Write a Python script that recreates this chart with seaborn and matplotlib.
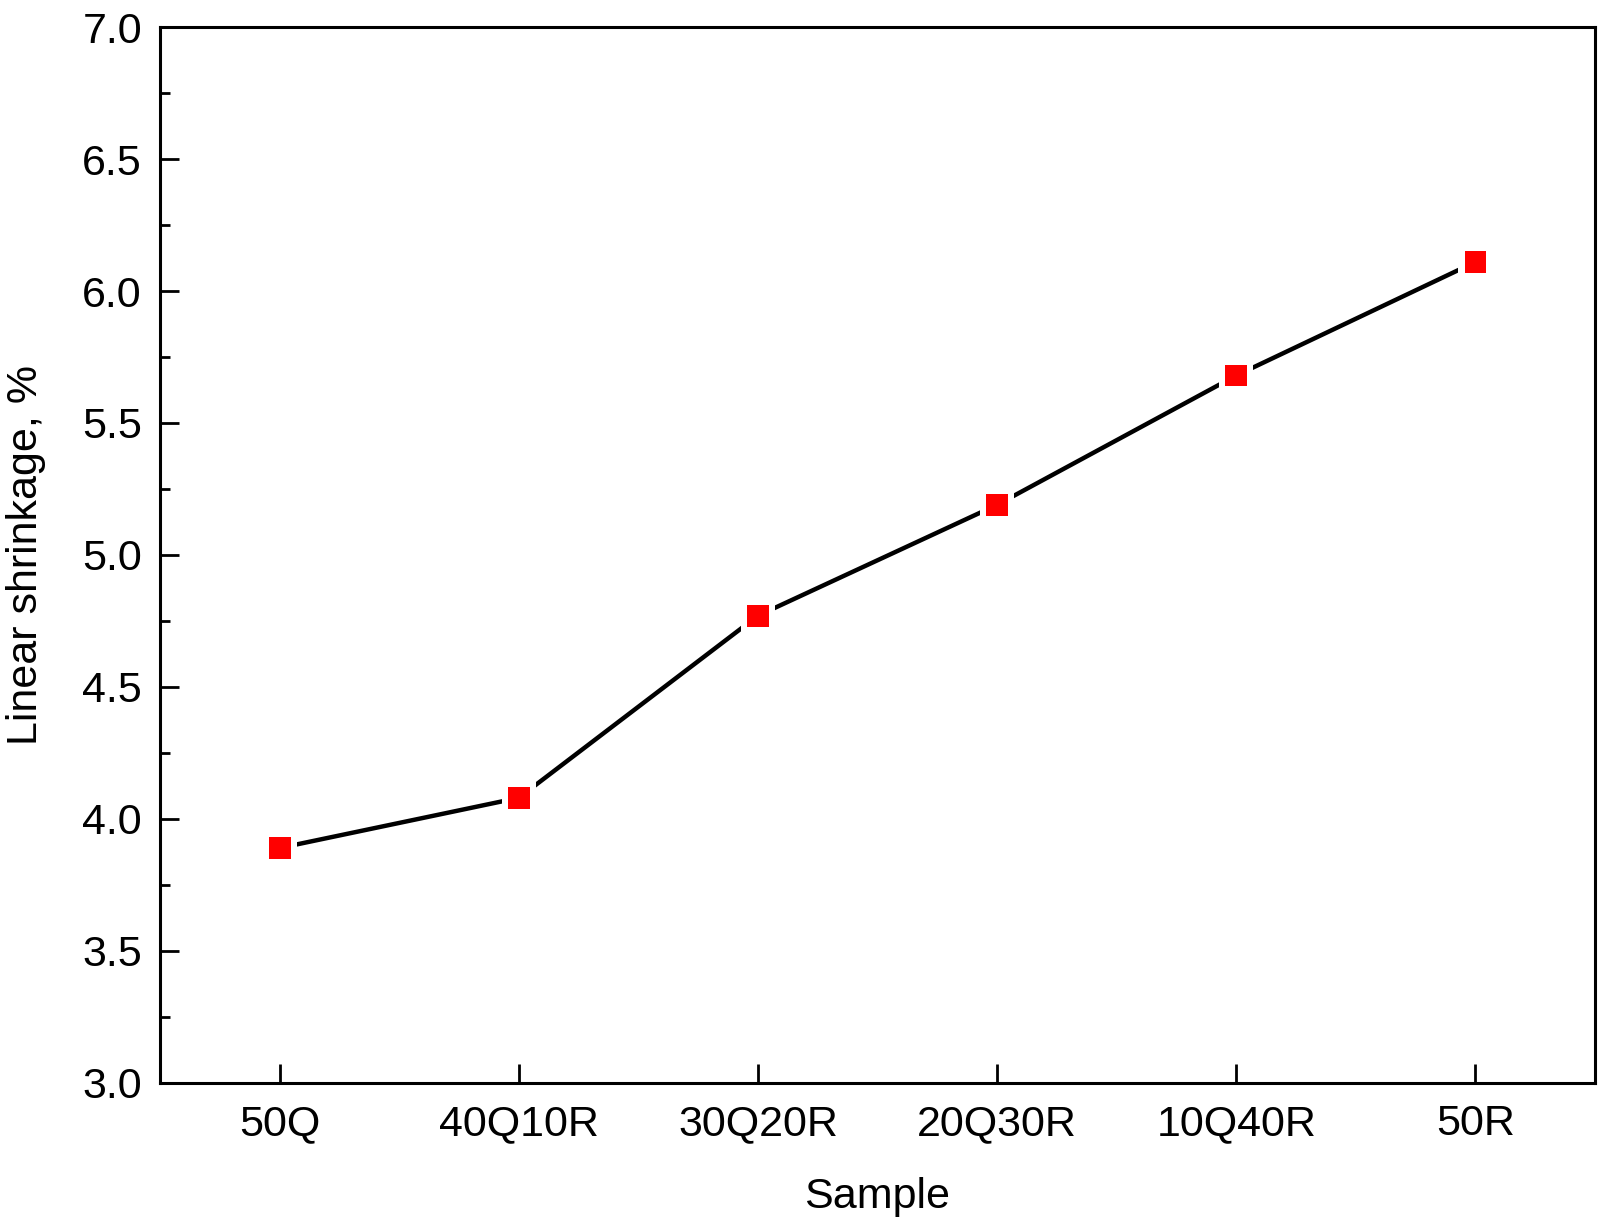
import pandas as pd
import matplotlib.pyplot as plt
import seaborn as sns
from matplotlib.ticker import MultipleLocator

# data
samples = ["50Q", "40Q10R", "30Q20R", "20Q30R", "10Q40R", "50R"]
shrinkage = [3.89, 4.08, 4.77, 5.19, 5.68, 6.11]

df = pd.DataFrame({"Sample": samples, "Shrinkage": shrinkage})
df["pos"] = range(len(samples))

sns.set_theme(style="ticks")
plt.rcParams["font.family"] = ["Liberation Sans", "DejaVu Sans"]

fig = plt.figure(figsize=(16.01, 12.28), dpi=100)
ax = fig.add_axes([0.0999, 0.1181, 0.8964, 0.8599])

sns.lineplot(data=df, x="pos", y="Shrinkage", color="black", linewidth=3.2, ax=ax, zorder=2)
# white halo so the line stops short of each marker
sns.scatterplot(data=df, x="pos", y="Shrinkage", marker="s", s=600, color="white",
                edgecolor="none", ax=ax, zorder=3)
sns.scatterplot(data=df, x="pos", y="Shrinkage", marker="s", s=250, color="#ff0000",
                edgecolor="none", ax=ax, zorder=4)

ax.set_xlim(-0.5, 5.5)
ax.set_ylim(3.0, 7.0)
ax.set_xticks(df["pos"])
ax.set_xticklabels(samples)
ax.yaxis.set_major_locator(MultipleLocator(0.5))
ax.yaxis.set_minor_locator(MultipleLocator(0.25))
ax.yaxis.set_major_formatter(plt.FormatStrFormatter("%.1f"))

ax.tick_params(axis="both", which="major", direction="in", length=14, width=2,
               labelsize=31, color="black", labelcolor="black")
ax.tick_params(axis="y", which="major", pad=13)
ax.tick_params(axis="x", which="major", pad=15)
ax.tick_params(axis="y", which="minor", direction="in", length=7, width=2, color="black")

for sp in ax.spines.values():
    sp.set_visible(True)
    sp.set_linewidth(2.2)
    sp.set_color("black")

ax.set_xlabel("Sample", fontsize=31, labelpad=24, color="black")
ax.set_ylabel("Linear shrinkage, %", fontsize=31, labelpad=26, color="black")

fig.savefig("out.png", dpi=100, facecolor="white")
